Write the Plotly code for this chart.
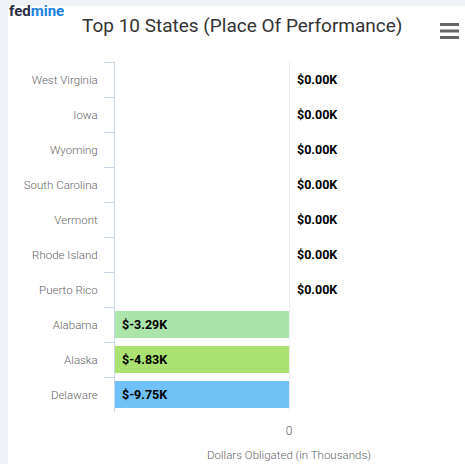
import plotly.graph_objects as go

states = ["West Virginia", "Iowa", "Wyoming", "South Carolina", "Vermont",
          "Rhode Island", "Puerto Rico", "Alabama", "Alaska", "Delaware"]
values = [0, 0, 0, 0, 0, 0, 0, -3.29, -4.83, -9.75]
bar_colors = ["#c7c7f0", "#9a9a9a", "#c8ecc0", "#f5d0c0", "#c9c9f5",
              "#f5c0d5", "#f0f0d0", "#ace5a9", "#a9e270", "#6fc1f8"]
x_ticks = [0]
x_tick_labels = ["0"]
x_min = -3.0  # axis minimum: negative bars are clipped at the left edge

W, H = 465, 464
ML, MR, MT, MB = 115, 2, 62, 52
PW, PH = W - ML - MR, H - MT - MB


def px(x):
    return (x - ML) / PW


def py(y):
    return (H - MB - y) / PH


def fmt(v):
    return "$%.2fK" % v


fig = go.Figure()
fig.add_trace(go.Bar(
    y=states, x=values, orientation="h",
    marker=dict(color=bar_colors, line=dict(width=0)),
    width=0.77, hoverinfo="skip", cliponaxis=True,
))

annotations = []
for s, v in zip(states, values):
    annotations.append(dict(
        x=max(v, x_min) if v < 0 else 0, y=s, xref="x", yref="y",
        text="<b>%s</b>" % fmt(v), showarrow=False,
        xanchor="left", xshift=5 if v < 0 else 6,
        font=dict(family="Roboto", size=12.5, color="#000000"),
    ))

# title
annotations.append(dict(
    x=px(242), y=py(25.5), xref="paper", yref="paper", showarrow=False,
    text="Top 10 States (Place Of Performance)",
    xanchor="center", yanchor="middle",
    font=dict(family="Roboto", size=19, color="#333333"),
))
# logo
annotations.append(dict(
    x=px(7), y=py(11.5), xref="paper", yref="paper", showarrow=False,
    text="<b><span style='color:#2a2f45'>fed</span><span style='color:#1a7fe0'>mine</span></b>",
    xanchor="left", yanchor="middle",
    font=dict(family="Roboto", size=15),
))

shapes = [
    dict(type="rect", xref="paper", yref="paper", layer="below",
         x0=px(8), x1=px(470), y0=py(470), y1=py(6),
         fillcolor="#ffffff", line=dict(width=0)),
]
for yy in [24.5, 31, 37.5]:
    shapes.append(dict(type="line", xref="paper", yref="paper",
                       x0=px(440), x1=px(459), y0=py(yy), y1=py(yy),
                       line=dict(color="#666666", width=3)))

fig.update_layout(
    width=W, height=H,
    margin=dict(l=ML, r=MR, t=MT, b=MB, autoexpand=False),
    paper_bgcolor="#eef1f6", plot_bgcolor="#ffffff",
    showlegend=False, bargap=0.23,
    font=dict(family="Roboto", color="#666666", size=12),
    annotations=annotations, shapes=shapes,
    xaxis=dict(
        range=[x_min, -x_min], tickvals=x_ticks, ticktext=x_tick_labels,
        showgrid=False, zeroline=True, zerolinecolor="#ececec", zerolinewidth=1,
        showline=False, ticks="", ticklabelstandoff=10,
        tickfont=dict(size=12, color="#666666", weight=300),
        title=dict(text="Dollars Obligated (in Thousands)", standoff=13,
                   font=dict(size=11.5, color="#666666", weight=300)),
        fixedrange=True,
    ),
    yaxis=dict(
        categoryorder="array", categoryarray=states, autorange="reversed",
        showgrid=False, zeroline=False,
        showline=True, linecolor="#ccd6eb", linewidth=1,
        ticks="outside", tickson="boundaries", ticklen=10, tickcolor="#ccd6eb",
        ticklabelstandoff=14,
        tickfont=dict(size=11.5, color="#666666", weight=300),
        fixedrange=True,
    ),
)

fig.write_html("out.html", config={"displayModeBar": False},
               post_script="document.body.style.margin='0';")
